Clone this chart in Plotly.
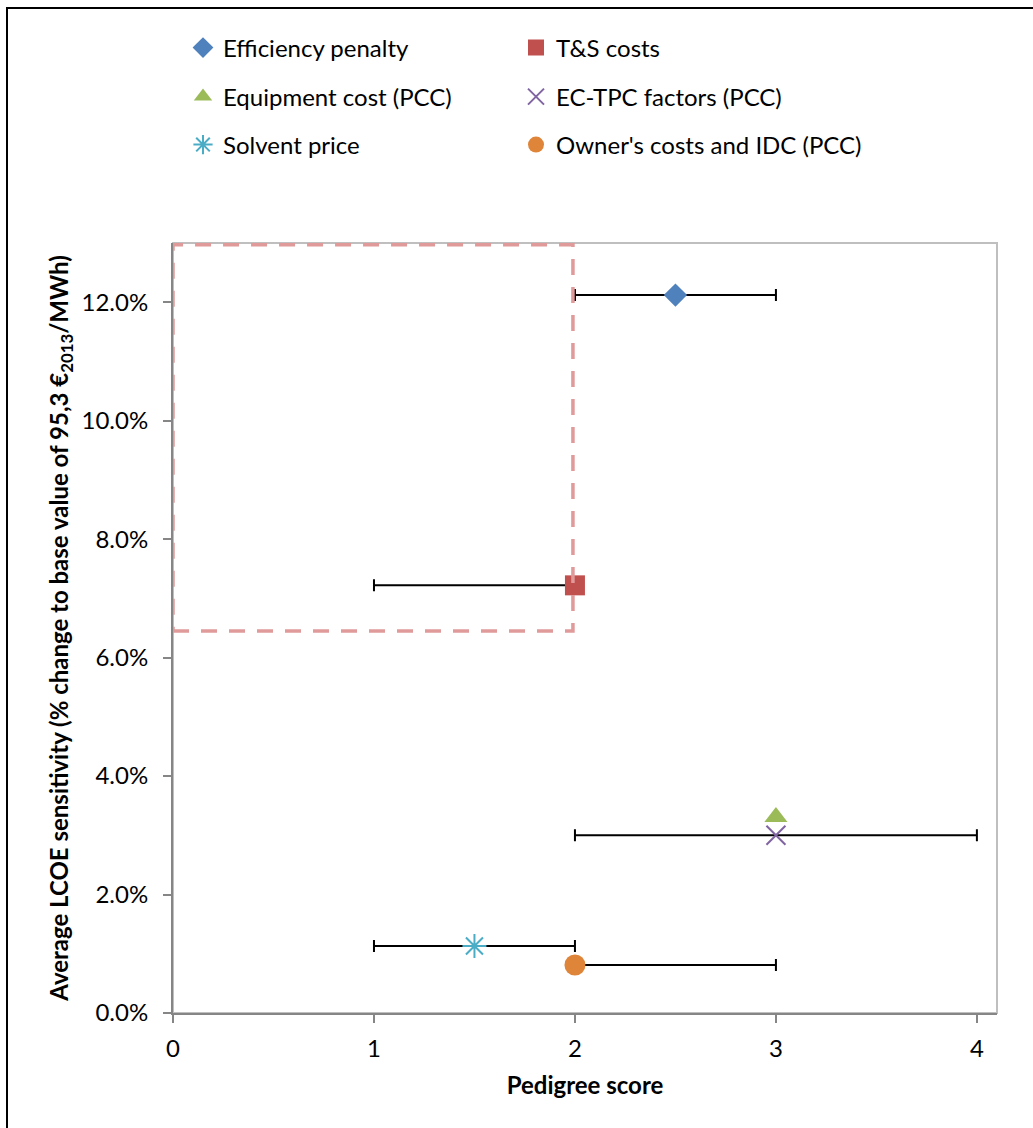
import plotly.graph_objects as go

# ---- data ----
series_names = ["Efficiency penalty", "T&S costs", "Equipment cost (PCC)",
                "EC-TPC factors (PCC)", "Solvent price", "Owner's costs and IDC (PCC)"]
pedigree_score = [2.5, 2.0, 3.0, 3.0, 1.5, 2.0]
lcoe_sensitivity = [0.1212, 0.0722, 0.0331, 0.0300, 0.0113, 0.0081]
err_plus = [0.5, 0.0, None, 1.0, 0.5, 1.0]
err_minus = [0.5, 1.0, None, 1.0, 0.5, 0.0]

x_ticks = [0, 1, 2, 3, 4]
y_ticks = [0.0, 0.02, 0.04, 0.06, 0.08, 0.10, 0.12]

# highlighted region (dashed box)
box_x = [0.0, 1.99]
box_y = [0.0645, 0.1297]

# ---- styles ----
colors = ["#4F81BD", "#C0504D", "#9BBB59", "#8064A2", "#4BACC6", "#DF8539"]
symbols = ["diamond", "square", "triangle-up", "x-thin-open", "asterisk-open", "circle"]
sizes = [18, 20, 20, 19, 20, 21]
# legend placement: (left pixel of legend box, row centre pixel)
leg_cols = [183, 516]
leg_rows = [48, 97, 145]

FONT = "Lato"
FS = 24

fig = go.Figure()
legends = {}
for i, name in enumerate(series_names):
    marker = dict(color=colors[i], symbol=symbols[i], size=sizes[i])
    if symbols[i].endswith("open"):
        marker["line"] = dict(color=colors[i], width=2)
    else:
        marker["line"] = dict(width=0)
    err = None
    if err_plus[i] is not None:
        err = dict(type="data", symmetric=False, array=[err_plus[i]],
                   arrayminus=[err_minus[i]], color="black", thickness=2, width=6)
    lid = "legend" if i == 0 else f"legend{i + 1}"
    fig.add_trace(go.Scatter(
        x=[pedigree_score[i]], y=[lcoe_sensitivity[i]], mode="markers",
        name=name, marker=marker, error_x=err, legend=lid,
    ))
    px_x = leg_cols[i % 2]
    px_y = leg_rows[i // 2]
    legends[lid] = dict(orientation="h", x=(px_x - 173) / 824, y=(1013 - px_y) / 770,
                        xanchor="left", yanchor="middle",
                        font=dict(family=FONT, size=FS, color="black"),
                        itemwidth=30, bgcolor="rgba(0,0,0,0)")

axis_common = dict(showgrid=False, zeroline=False, showline=True, linecolor="#868686",
                   linewidth=2, ticks="outside", tickcolor="#868686", ticklen=8, tickwidth=2,
                   tickfont=dict(family=FONT, size=FS, color="black"))

fig.update_xaxes(range=[0, 4.1], tickvals=x_ticks, ticklabelstandoff=5, **axis_common,
                 title=dict(text="<b>Pedigree score</b>", font=dict(family=FONT, size=FS, color="black"),
                            standoff=16))
fig.update_yaxes(range=[0, 0.13], tickvals=y_ticks, tickformat=".1%", ticklabelstandoff=10, **axis_common,
                 title=dict(text="<b>Average LCOE sensitivity (% change to base value of 95,3 €<sub>2013</sub>/MWh)</b>",
                            font=dict(family=FONT, size=FS, color="black"), standoff=6))

shapes = [
    # plot frame (top/right light gray)
    dict(type="rect", xref="paper", yref="paper", x0=0, x1=1, y0=0, y1=1,
         line=dict(color="#BFBFBF", width=2), layer="below"),
    # dashed highlight box
    dict(type="rect", xref="x", yref="y", x0=box_x[0], x1=box_x[1], y0=box_y[0], y1=box_y[1],
         line=dict(color="#E09A9A", width=3.5, dash="16px,12px")),
    # outer figure border
    dict(type="rect", xref="paper", yref="paper", x0=(7 - 173) / 824, x1=1.2, y0=-0.3, y1=(1013 - 8) / 770,
         line=dict(color="black", width=2)),
]

fig.update_layout(
    width=1033, height=1128,
    margin=dict(l=173, r=36, t=243, b=115),
    paper_bgcolor="white", plot_bgcolor="white",
    font=dict(family=FONT, color="black"),
    shapes=shapes,
    showlegend=True,
    **legends,
)

fig.write_html("out.html", config={"displayModeBar": False},
               post_script="document.body.style.margin='0';")
